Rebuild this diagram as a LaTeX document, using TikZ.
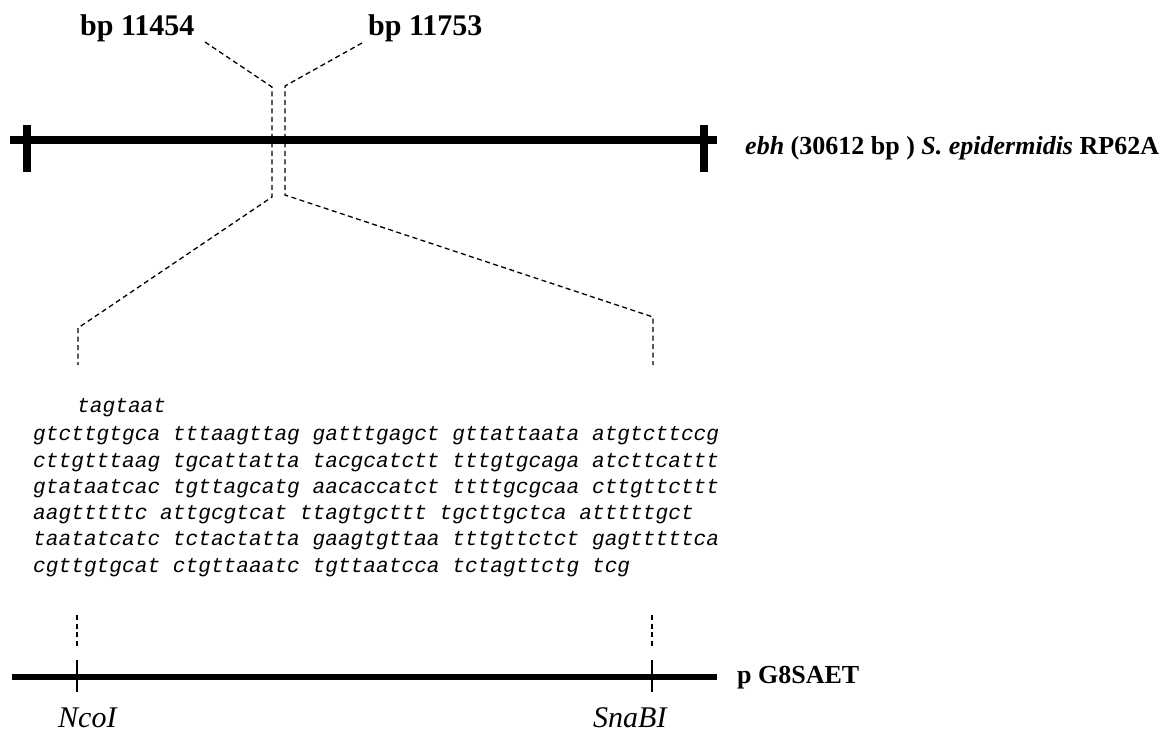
\documentclass[tikz,border=0pt]{standalone}
\usepackage{fontspec}
\setmainfont{Liberation Serif}
\newfontfamily\seqfont{Liberation Mono}
\tikzset{
  lbl/.style={inner sep=0pt, anchor=base west, font=\fontsize{30}{36}\selectfont\bfseries},
  sitelbl/.style={inner sep=0pt, anchor=base west, font=\fontsize{30}{34}\selectfont\itshape},
  seqrow/.style={inner sep=0pt, anchor=mid west, font=\fontsize{21.17}{26}\selectfont\seqfont\itshape},
  guide/.style={line width=1.3pt, dash pattern=on 5pt off 3.5pt},
  thickbar/.style={line width=8pt},
  midbar/.style={line width=6pt},
  thintick/.style={line width=2.5pt},
}
\begin{document}
\begin{tikzpicture}[x=1pt,y=-1pt]
\useasboundingbox[fill=white] (0,0) rectangle (1170,735);

% top map
\coordinate (tA) at (10,140);
\coordinate (tB) at (717,140);
\draw[thickbar] (tA) -- (tB);
\coordinate (tl1) at (27,125); \coordinate (tl2) at (27,172);
\coordinate (tr1) at (704,125); \coordinate (tr2) at (704,172);
\draw[thickbar] (tl1) -- (tl2);
\draw[thickbar] (tr1) -- (tr2);
\node[inner sep=0pt, anchor=base west, font=\fontsize{26}{30}\selectfont\bfseries] (ebh) at (745,155)
  {\textit{ebh} (30612 bp ) \textit{S. epidermidis} RP62A};

% top labels
\node[lbl] (bp1) at (80,36) {bp 11454};
\node[lbl] (bp2) at (368,36) {bp 11753};

% guide coordinates
\coordinate (a1) at (205,42);
\coordinate (a2) at (272,87);
\coordinate (a3) at (272,197);
\coordinate (a4) at (78,328);
\coordinate (a5) at (78,365);
\coordinate (b1) at (362,43);
\coordinate (b2) at (285,86);
\coordinate (b3) at (285,195);
\coordinate (b4) at (653,317);
\coordinate (b5) at (653,365);
\draw[guide] (a1) -- (a2) -- (a3) -- (a4) -- (a5);
\draw[guide] (b1) -- (b2) -- (b3) -- (b4) -- (b5);

% sequence
\node[seqrow] (s0) at (77,410) {tagtaat};
\node[seqrow] (s1) at (33,438) {gtcttgtgca tttaagttag gatttgagct gttattaata atgtcttccg};
\node[seqrow] (s2) at (33,465) {cttgtttaag tgcattatta tacgcatctt tttgtgcaga atcttcattt};
\node[seqrow] (s3) at (33,491) {gtataatcac tgttagcatg aacaccatct ttttgcgcaa cttgttcttt};
\node[seqrow] (s4) at (33,517) {aagtttttc attgcgtcat ttagtgcttt tgcttgctca atttttgct};
\node[seqrow] (s5) at (33,543) {taatatcatc tctactatta gaagtgttaa tttgttctct gagtttttca};
\node[seqrow] (s6) at (33,570) {cgttgtgcat ctgttaaatc tgttaatcca tctagttctg tcg};

% bottom map
\coordinate (c1) at (77,615); \coordinate (c2) at (77,647);
\coordinate (d1) at (652,615); \coordinate (d2) at (652,647);
\draw[guide] (c1) -- (c2);
\draw[guide] (d1) -- (d2);
\coordinate (mA) at (12,677);
\coordinate (mB) at (717,677);
\draw[midbar] (mA) -- (mB);
\coordinate (n1) at (77,660); \coordinate (n2) at (77,692);
\coordinate (m1) at (652,660); \coordinate (m2) at (652,692);
\draw[thintick] (n1) -- (n2);
\draw[thintick] (m1) -- (m2);
\node[inner sep=0pt, anchor=base west, font=\fontsize{26}{30}\selectfont\bfseries] (pg) at (737,683) {p G8SAET};
\node[sitelbl] (nco) at (58,727) {NcoI};
\node[sitelbl] (sna) at (593,727) {SnaBI};
\end{tikzpicture}
\end{document}
